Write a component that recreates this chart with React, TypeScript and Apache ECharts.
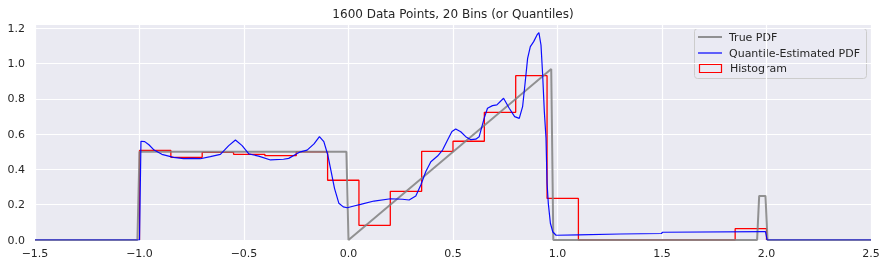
import React, { useEffect, useRef } from 'react';
import * as echarts from 'echarts';

const TITLE = '1600 Data Points, 20 Bins (or Quantiles)';
const legendNames = ['True PDF', 'Quantile-Estimated PDF', 'Histogram'];

const binEdges = [-1.0, -0.85, -0.7, -0.55, -0.4, -0.25, -0.1, 0.05, 0.2, 0.35, 0.5, 0.65, 0.8, 0.95, 1.1, 1.25, 1.4, 1.55, 1.7, 1.85, 2.0];
const histHeights = [0.508, 0.469, 0.497, 0.486, 0.478, 0.5, 0.339, 0.083, 0.276, 0.503, 0.56, 0.724, 0.932, 0.236, 0, 0, 0, 0, 0, 0.064];

const truePdfX = [-1.5, -1.01, -1.0, -0.01, 0.0, 0.97, 0.98, 1.955, 1.965, 1.995, 2.005, 2.5];
const truePdfY = [0, 0, 0.5, 0.5, 0, 0.97, 0, 0, 0.25, 0.25, 0, 0];

const quantileX = [
  -1.5, -1.0, -0.993, -0.975, -0.955, -0.93, -0.893, -0.837, -0.789, -0.75, -0.709, -0.661, -0.613,
  -0.573, -0.541, -0.509, -0.477, -0.43, -0.373, -0.311, -0.286, -0.254, -0.23, -0.198, -0.165,
  -0.139, -0.118, -0.099, -0.083, -0.067, -0.046, -0.025, -0.006, 0.026, 0.058, 0.122, 0.202,
  0.258, 0.29, 0.322, 0.346, 0.37, 0.394, 0.426, 0.45, 0.474, 0.495, 0.513, 0.537, 0.561, 0.585,
  0.609, 0.625, 0.649, 0.665, 0.689, 0.71, 0.742, 0.769, 0.795, 0.817, 0.833, 0.844, 0.857, 0.87,
  0.886, 0.902, 0.911, 0.921, 0.929, 0.937, 0.945, 0.95, 0.956, 0.966, 0.977, 0.993, 1.1, 1.3,
  1.497, 1.503, 1.995, 2.003, 2.5,
];
const quantileY = [
  0, 0, 0.56, 0.558, 0.54, 0.51, 0.486, 0.469, 0.461, 0.463, 0.461, 0.473, 0.486,
  0.535, 0.567, 0.535, 0.488, 0.476, 0.454, 0.458, 0.463, 0.485, 0.5, 0.51, 0.545,
  0.586, 0.558, 0.482, 0.388, 0.293, 0.208, 0.188, 0.183, 0.193, 0.202, 0.221, 0.234,
  0.231, 0.227, 0.25, 0.312, 0.388, 0.444, 0.476, 0.51, 0.567, 0.615, 0.63, 0.614, 0.586, 0.569,
  0.572, 0.585, 0.69, 0.747, 0.762, 0.766, 0.804, 0.747, 0.7, 0.69, 0.756, 0.879, 1.03, 1.097,
  1.125, 1.163, 1.176, 1.106, 0.936, 0.728, 0.577, 0.322, 0.208, 0.095, 0.047, 0.027, 0.029, 0.034,
  0.037, 0.044, 0.048, 0, 0,
];

const FONT = 'DejaVu Sans';
const TEXT = '#262626';

function fmt(v: number) {
  const s = Math.abs(v).toFixed(1);
  return v < -1e-9 ? '\u2212' + s : s;
}

export default function App() {
  const ref = useRef<HTMLDivElement>(null);
  useEffect(() => {
    if (!ref.current) return;
    const chart = echarts.init(ref.current, undefined, { renderer: 'svg' });

    const histData: number[][] = [[binEdges[0], 0]];
    histHeights.forEach((h, i) => {
      histData.push([binEdges[i], h]);
      histData.push([binEdges[i + 1], h]);
    });
    histData.push([binEdges[binEdges.length - 1], 0]);

    const trueData = truePdfX.map((x, i) => [x, truePdfY[i]]);
    const quantData = quantileX.map((x, i) => [x, quantileY[i]]);

    const L = { x: 694, y: 28, w: 172, h: 50 };

    chart.setOption({
      animation: false,
      grid: {
        left: 35, right: 15, top: 24, bottom: 27,
        show: true, backgroundColor: '#EAEAF2', borderWidth: 0,
      },
      xAxis: {
        type: 'value', min: -1.5, max: 2.5, interval: 0.5,
        axisLine: { show: false }, axisTick: { show: false },
        axisLabel: { color: TEXT, fontFamily: FONT, fontSize: 11, margin: 8, formatter: (v: number) => fmt(v) },
        splitLine: { show: true, lineStyle: { color: '#ffffff', width: 1.2 } },
      },
      yAxis: {
        type: 'value', min: 0, max: 1.225, interval: 0.2,
        axisLine: { show: false }, axisTick: { show: false },
        axisLabel: {
          color: TEXT, fontFamily: FONT, fontSize: 11, margin: 10, showMaxLabel: false,
          formatter: (v: number) => (Math.abs(v * 5 - Math.round(v * 5)) < 1e-6 ? fmt(v) : ''),
        },
        splitLine: { show: true, lineStyle: { color: '#ffffff', width: 1.2 } },
      },
      graphic: [
        {
          type: 'text', x: 453, y: 14, z: 10,
          style: { text: TITLE, fill: TEXT, font: `12px "${FONT}"`, textAlign: 'center', textVerticalAlign: 'middle' },
        },
        {
          type: 'group', z: 20,
          children: [
            {
              type: 'rect', shape: { x: L.x + 0.5, y: L.y + 0.5, width: L.w, height: L.h, r: 3 },
              style: { fill: 'rgba(234,234,242,0.8)', stroke: '#cccccc', lineWidth: 1 },
            },
            { type: 'line', shape: { x1: 698, y1: 37, x2: 722, y2: 37 }, style: { stroke: 'rgba(128,128,128,0.85)', lineWidth: 2 } },
            { type: 'line', shape: { x1: 698, y1: 53, x2: 722, y2: 53 }, style: { stroke: '#0000ff', lineWidth: 1.2 } },
            { type: 'rect', shape: { x: 699.5, y: 64.5, width: 22, height: 8 }, style: { fill: 'none', stroke: '#ff0000', lineWidth: 1.2 } },
            { type: 'text', x: 729, y: 37, style: { text: legendNames[0], fill: TEXT, font: `11px "${FONT}"`, textVerticalAlign: 'middle' } },
            { type: 'text', x: 729, y: 53, style: { text: legendNames[1], fill: TEXT, font: `11px "${FONT}"`, textVerticalAlign: 'middle' } },
            { type: 'text', x: 730, y: 68.5, style: { text: legendNames[2], fill: TEXT, font: `11px "${FONT}"`, textVerticalAlign: 'middle' } },
          ],
        },
      ],
      series: [
        {
          name: legendNames[2], type: 'line', data: histData, showSymbol: false, silent: true,
          lineStyle: { color: '#ff0000', width: 1.3 }, itemStyle: { color: '#ff0000' },
        },
        {
          name: legendNames[0], type: 'line', data: trueData, showSymbol: false, silent: true,
          lineStyle: { color: '#808080', width: 2, opacity: 0.85 }, itemStyle: { color: '#808080' },
        },
        {
          name: legendNames[1], type: 'line', data: quantData, showSymbol: false, silent: true,
          lineStyle: { color: '#0000ff', width: 1.2, opacity: 0.95 }, itemStyle: { color: '#0000ff' },
        },
      ],
    });
    return () => chart.dispose();
  }, []);
  return <div ref={ref} style={{ position: 'fixed', left: 0, top: 0, width: 886, height: 267 }} />;
}
